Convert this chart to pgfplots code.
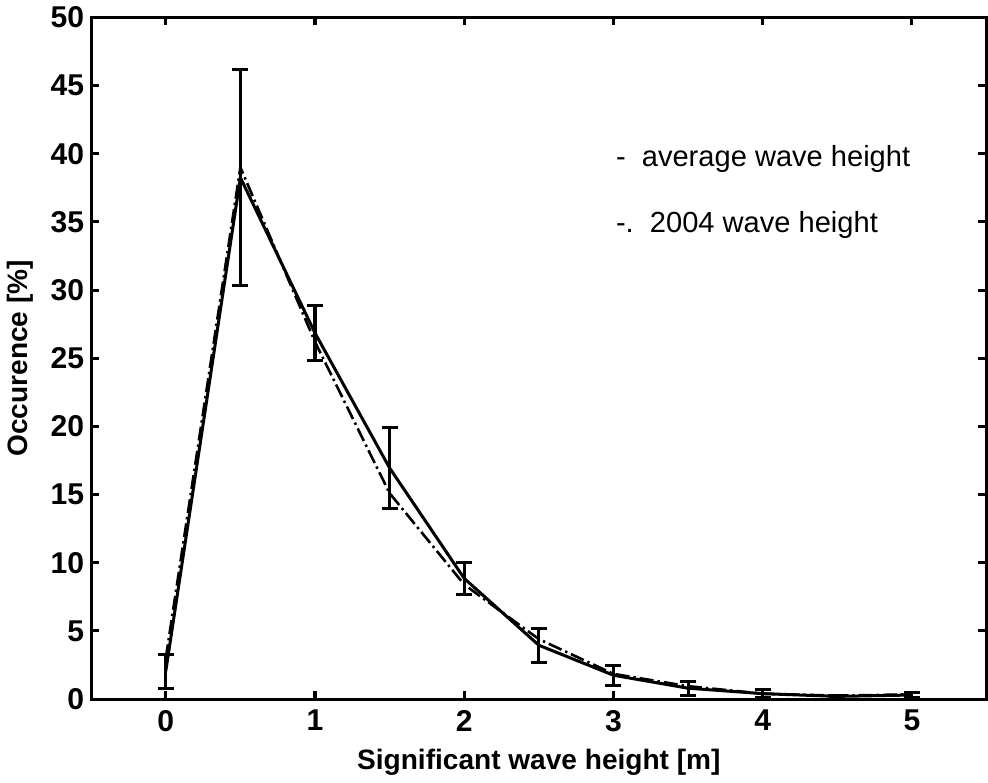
\documentclass[border=0pt]{standalone}
\usepackage{pgfplots}
\pgfplotsset{compat=1.18}
\usepackage{fontspec}
\setmainfont{Liberation Sans}

\begin{document}
\begin{tikzpicture}
\begin{axis}[
    width=446.5pt, height=340pt,
    scale only axis,
    xmin=-0.5, xmax=5.5,
    ymin=0, ymax=50,
    xtick={0,1,2,3,4,5},
    ytick={0,5,...,50},
    tick align=inside,
    major tick length=4pt,
    axis line style={line width=1.5pt},
    every tick/.style={line width=1.5pt, black},
    tick label style={font=\fontsize{15}{16}\selectfont\bfseries},
    xticklabel style={yshift=-2pt},
    /pgf/number format/assume math mode=true,
    label style={font=\fontsize{14}{16}\selectfont\bfseries},
    xlabel={Significant wave height [m]},
    ylabel={Occurence [\%]},
    xlabel style={yshift=-2pt},
    ylabel style={yshift=2pt},
    clip=false,
]
% average wave height with error bars
\addplot[black, line width=1.5pt, mark=none,
    error bars/.cd, y dir=both, y explicit,
    error mark options={line width=1.5pt, mark size=4pt, rotate=90},
    error bar style={line width=1.5pt}]
  table[x=x, y=y, y error=e] {
x    y      e
0    2.05   1.25
0.5  38.25  7.95
1    26.85  2.05
1.5  16.95  2.95
2    8.85   1.15
2.5  3.95   1.25
3    1.75   0.75
3.5  0.80   0.50
4    0.40   0.30
4.5  0.20   0.10
5    0.30   0.15
};
% 2004 wave height
\addplot[black, line width=1.3pt, mark=none,
    dash pattern=on 7pt off 2pt on 1.2pt off 2pt]
  table[x=x, y=y] {
x    y
0    3.0
0.5  39.0
1    26.2
1.5  15.1
2    8.4
2.5  4.4
3    1.85
3.5  0.95
4    0.40
4.5  0.25
5    0.35
};
\node[anchor=west, font=\fontsize{14.5}{16}\selectfont] at (axis cs:2.97,39.6) {-\ \ average wave height};
\node[anchor=west, font=\fontsize{14.5}{16}\selectfont] at (axis cs:2.97,34.8) {-.\ \ 2004 wave height};
\end{axis}
\end{tikzpicture}
\end{document}
